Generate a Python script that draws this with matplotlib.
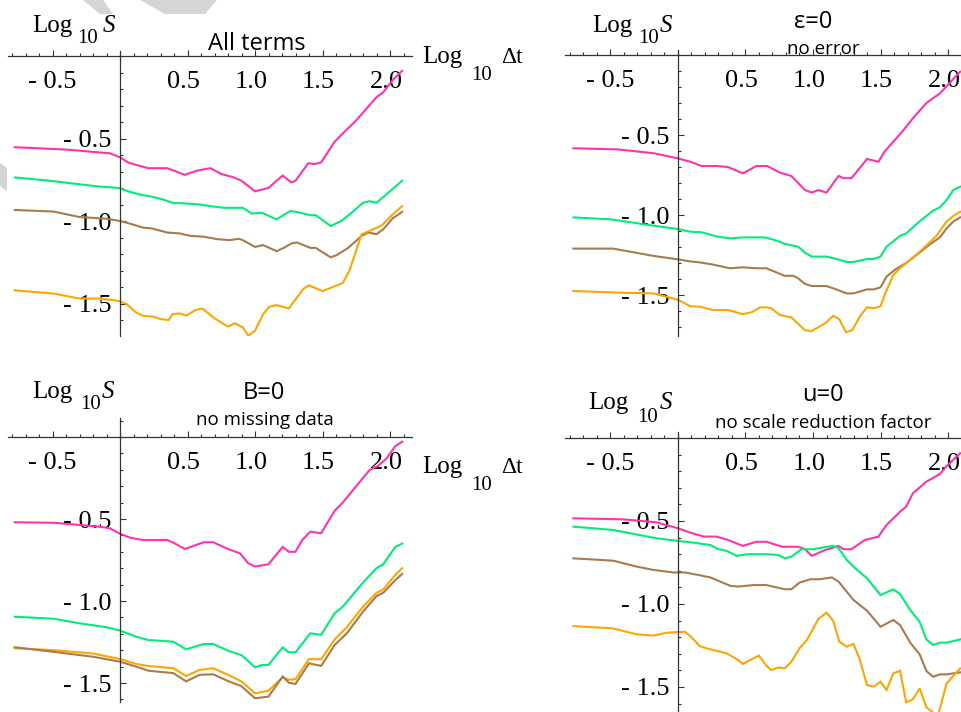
import matplotlib.pyplot as plt
from matplotlib.ticker import FixedLocator, MultipleLocator
from matplotlib.patches import Polygon
from matplotlib.transforms import ScaledTranslation

W, H = 962, 712

PINK = '#ff33aa'
GREEN = '#00ee77'
BROWN = '#a87b4f'
ORANGE = '#ffa500'

# ---- panel 1: all terms ----
tl_pink_x = [-0.78, -0.40, -0.074, 0.0, 0.06, 0.12, 0.21, 0.35, 0.48, 0.57, 0.67, 0.75, 0.84, 0.90, 1.00, 1.10,
             1.16, 1.205, 1.27, 1.30, 1.395, 1.44, 1.49, 1.59, 1.65, 1.75, 1.90, 1.95, 2.02, 2.09]
tl_pink_y = [-0.553, -0.567, -0.59, -0.614, -0.645, -0.66, -0.68, -0.68, -0.72, -0.695, -0.68, -0.715, -0.735,
             -0.756, -0.82, -0.80, -0.756, -0.725, -0.766, -0.756, -0.65, -0.655, -0.645, -0.52, -0.47, -0.39,
             -0.25, -0.22, -0.146, -0.09]
tl_green_x = [-0.78, -0.52, -0.17, -0.01, 0.06, 0.15, 0.22, 0.32, 0.39, 0.49, 0.59, 0.67, 0.77, 0.91, 0.975,
              1.05, 1.16, 1.26, 1.31, 1.41, 1.45, 1.56, 1.64, 1.73, 1.80, 1.85, 1.90, 2.00, 2.09]
tl_green_y = [-0.736, -0.756, -0.79, -0.80, -0.82, -0.84, -0.85, -0.87, -0.89, -0.894, -0.90, -0.91, -0.92,
              -0.92, -0.955, -0.95, -0.99, -0.94, -0.945, -0.965, -0.965, -1.03, -1.0, -0.94, -0.89, -0.88,
              -0.89, -0.82, -0.756]
tl_brown_x = [-0.78, -0.49, -0.30, -0.10, 0.0, 0.074, 0.17, 0.235, 0.35, 0.44, 0.52, 0.62, 0.72, 0.81, 0.88,
              0.91, 1.0, 1.06, 1.16, 1.22, 1.27, 1.31, 1.41, 1.45, 1.56, 1.605, 1.69, 1.79, 1.84, 1.90, 1.95,
              2.02, 2.09]
tl_brown_y = [-0.933, -0.943, -0.976, -0.986, -1.0, -1.016, -1.04, -1.045, -1.07, -1.075, -1.09, -1.095, -1.11,
              -1.116, -1.108, -1.116, -1.157, -1.146, -1.183, -1.16, -1.136, -1.13, -1.163, -1.163, -1.22,
              -1.207, -1.163, -1.09, -1.07, -1.08, -1.05, -0.984, -0.945]
tl_orange_x = [-0.78, -0.49, -0.30, -0.15, -0.01, 0.05, 0.12, 0.17, 0.25, 0.30, 0.36, 0.39, 0.44, 0.49, 0.56,
               0.61, 0.70, 0.80, 0.85, 0.91, 0.95, 1.0, 1.06, 1.105, 1.16, 1.25, 1.36, 1.40, 1.50, 1.65, 1.70,
               1.79, 1.85, 1.94, 2.02, 2.09]
tl_orange_y = [-1.42, -1.44, -1.47, -1.47, -1.484, -1.504, -1.555, -1.575, -1.58, -1.595, -1.60, -1.565, -1.56,
               -1.573, -1.54, -1.53, -1.59, -1.64, -1.62, -1.645, -1.695, -1.665, -1.565, -1.52, -1.51, -1.53,
               -1.41, -1.39, -1.425, -1.376, -1.30, -1.08, -1.06, -1.026, -0.96, -0.91]

# ---- panel 2: eps = 0 ----
tr_pink_x = [-0.775, -0.45, -0.18, 0.0, 0.09, 0.175, 0.29, 0.37, 0.48, 0.58, 0.66, 0.755, 0.84, 0.94, 0.99, 1.04,
             1.10, 1.16, 1.19, 1.225, 1.285, 1.40, 1.485, 1.53, 1.66, 1.74, 1.84, 1.94, 2.01, 2.09]
tr_pink_y = [-0.583, -0.59, -0.614, -0.646, -0.667, -0.694, -0.694, -0.70, -0.74, -0.694, -0.694, -0.735, -0.756,
             -0.844, -0.86, -0.844, -0.86, -0.79, -0.756, -0.77, -0.77, -0.65, -0.667, -0.604, -0.48, -0.396,
             -0.30, -0.24, -0.177, -0.104]
tr_green_x = [-0.775, -0.50, -0.18, 0.0, 0.09, 0.175, 0.29, 0.385, 0.48, 0.645, 0.73, 0.79, 0.89, 0.94, 0.99,
              1.10, 1.175, 1.25, 1.30, 1.40, 1.45, 1.50, 1.545, 1.645, 1.69, 1.79, 1.89, 1.94, 1.99, 2.04, 2.09]
tr_green_y = [-1.015, -1.027, -1.067, -1.088, -1.104, -1.108, -1.135, -1.146, -1.14, -1.14, -1.16, -1.18,
              -1.198, -1.235, -1.26, -1.26, -1.275, -1.294, -1.294, -1.275, -1.275, -1.26, -1.198, -1.13,
              -1.115, -1.04, -0.973, -0.952, -0.906, -0.844, -0.823]
tr_brown_x = [-0.775, -0.48, -0.18, 0.0, 0.09, 0.16, 0.26, 0.385, 0.48, 0.58, 0.655, 0.79, 0.855, 0.89, 0.94,
              0.99, 1.10, 1.15, 1.25, 1.30, 1.40, 1.45, 1.50, 1.545, 1.61, 1.69, 1.79, 1.855, 1.94, 1.99, 2.04,
              2.09]
tr_brown_y = [-1.21, -1.21, -1.256, -1.277, -1.29, -1.296, -1.31, -1.333, -1.327, -1.333, -1.333, -1.38, -1.38,
              -1.396, -1.43, -1.444, -1.444, -1.458, -1.49, -1.49, -1.465, -1.465, -1.452, -1.385, -1.34, -1.30,
              -1.235, -1.19, -1.14, -1.083, -1.04, -1.015]
tr_orange_x = [-0.775, -0.405, -0.18, 0.0, 0.09, 0.16, 0.26, 0.37, 0.48, 0.545, 0.61, 0.655, 0.69, 0.755, 0.84,
               0.94, 0.99, 1.09, 1.15, 1.195, 1.245, 1.29, 1.35, 1.40, 1.45, 1.50, 1.535, 1.595, 1.645, 1.72,
               1.79, 1.87, 1.915, 1.99, 2.04, 2.09]
tr_orange_y = [-1.475, -1.486, -1.49, -1.53, -1.57, -1.573, -1.594, -1.594, -1.62, -1.608, -1.577, -1.577,
               -1.583, -1.625, -1.64, -1.72, -1.725, -1.677, -1.63, -1.652, -1.733, -1.72, -1.63, -1.577, -1.583,
               -1.57, -1.49, -1.375, -1.333, -1.28, -1.23, -1.167, -1.13, -1.04, -1.006, -0.98]

# ---- panel 3: B = 0 ----
bl_pink_x = [-0.78, -0.49, -0.15, -0.074, 0.0, 0.074, 0.17, 0.35, 0.395, 0.48, 0.62, 0.69, 0.80, 0.89, 0.95, 1.0,
             1.10, 1.205, 1.25, 1.30, 1.35, 1.41, 1.49, 1.59, 1.65, 1.75, 1.85, 1.91, 1.975, 2.04, 2.09]
bl_pink_y = [-0.52, -0.523, -0.547, -0.557, -0.59, -0.614, -0.628, -0.628, -0.644, -0.683, -0.642, -0.642,
             -0.683, -0.71, -0.77, -0.79, -0.776, -0.67, -0.70, -0.70, -0.628, -0.577, -0.587, -0.45, -0.40,
             -0.30, -0.20, -0.177, -0.13, -0.055, -0.029]
bl_green_x = [-0.78, -0.49, -0.30, -0.10, 0.0, 0.12, 0.21, 0.395, 0.49, 0.62, 0.69, 0.80, 0.90, 1.0, 1.05, 1.10,
              1.205, 1.25, 1.30, 1.41, 1.49, 1.59, 1.65, 1.80, 1.90, 1.95, 2.04, 2.09]
bl_green_y = [-1.096, -1.108, -1.136, -1.16, -1.18, -1.218, -1.238, -1.248, -1.295, -1.262, -1.262, -1.303,
              -1.33, -1.404, -1.39, -1.39, -1.283, -1.313, -1.313, -1.197, -1.207, -1.075, -1.035, -0.888, -0.80,
              -0.776, -0.67, -0.65]
bl_low_x = [-0.78, -0.49, -0.20, 0.0, 0.12, 0.21, 0.395, 0.49, 0.59, 0.69, 0.80, 0.90, 1.0, 1.10, 1.205, 1.25,
            1.30, 1.40, 1.49, 1.59, 1.68, 1.80, 1.90, 1.95, 2.04, 2.09]
bl_orange_y = [-1.288, -1.30, -1.32, -1.354, -1.384, -1.396, -1.41, -1.457, -1.42, -1.41, -1.45, -1.49, -1.563,
               -1.547, -1.465, -1.48, -1.477, -1.354, -1.356, -1.234, -1.16, -1.035, -0.95, -0.93, -0.84, -0.80]
bl_brown_y = [-1.282, -1.31, -1.34, -1.37, -1.40, -1.425, -1.44, -1.49, -1.45, -1.447, -1.488, -1.52, -1.593,
              -1.583, -1.46, -1.498, -1.506, -1.38, -1.396, -1.268, -1.197, -1.065, -0.97, -0.95, -0.872, -0.835]

# ---- panel 4: u = 0 ----
br_pink_x = [-0.775, -0.405, -0.16, 0.0, 0.09, 0.19, 0.285, 0.37, 0.48, 0.58, 0.655, 0.77, 0.89, 0.94, 0.99,
             1.09, 1.19, 1.225, 1.285, 1.385, 1.485, 1.545, 1.645, 1.69, 1.74, 1.84, 1.94, 1.99, 2.09]
br_pink_y = [-0.484, -0.49, -0.508, -0.544, -0.57, -0.594, -0.594, -0.614, -0.65, -0.625, -0.625, -0.655,
             -0.655, -0.669, -0.71, -0.675, -0.65, -0.67, -0.67, -0.614, -0.594, -0.524, -0.444, -0.414,
             -0.333, -0.263, -0.217, -0.169, -0.092]
br_green_x = [-0.775, -0.48, -0.16, 0.0, 0.11, 0.24, 0.30, 0.36, 0.435, 0.51, 0.655, 0.745, 0.79, 0.84, 0.915,
              1.0, 1.15, 1.19, 1.25, 1.32, 1.40, 1.50, 1.595, 1.645, 1.72, 1.79, 1.84, 1.89, 1.94, 1.99, 2.09]
br_green_y = [-0.534, -0.554, -0.604, -0.62, -0.63, -0.645, -0.67, -0.68, -0.71, -0.70, -0.70, -0.705, -0.725,
              -0.715, -0.67, -0.67, -0.649, -0.665, -0.735, -0.79, -0.845, -0.946, -0.912, -0.94, -1.036,
              -1.107, -1.213, -1.247, -1.233, -1.233, -1.213]
br_brown_x = [-0.775, -0.48, -0.305, -0.18, -0.035, 0.05, 0.15, 0.24, 0.385, 0.445, 0.56, 0.655, 0.79, 0.84,
              0.90, 0.98, 1.05, 1.14, 1.19, 1.30, 1.40, 1.50, 1.595, 1.645, 1.72, 1.79, 1.84, 1.89, 1.94, 1.99,
              2.09]
br_brown_y = [-0.725, -0.739, -0.775, -0.795, -0.81, -0.81, -0.825, -0.84, -0.89, -0.895, -0.886, -0.886,
              -0.911, -0.911, -0.871, -0.851, -0.851, -0.84, -0.866, -0.976, -1.04, -1.137, -1.096, -1.127,
              -1.233, -1.303, -1.404, -1.438, -1.424, -1.424, -1.412]
br_orange_x = [-0.775, -0.48, -0.305, -0.18, -0.085, 0.05, 0.10, 0.16, 0.21, 0.36, 0.445, 0.48, 0.56, 0.60,
               0.65, 0.69, 0.745, 0.79, 0.84, 0.90, 0.955, 1.04, 1.10, 1.15, 1.195, 1.25, 1.30, 1.345, 1.40,
               1.45, 1.50, 1.545, 1.595, 1.645, 1.69, 1.74, 1.79, 1.84, 1.89, 1.92, 1.99, 2.09]
br_orange_y = [-1.133, -1.147, -1.183, -1.19, -1.173, -1.167, -1.20, -1.253, -1.267, -1.297, -1.337, -1.361,
               -1.327, -1.311, -1.367, -1.398, -1.382, -1.388, -1.348, -1.267, -1.217, -1.09, -1.052, -1.102,
               -1.227, -1.257, -1.241, -1.331, -1.488, -1.498, -1.468, -1.518, -1.418, -1.402, -1.592, -1.574,
               -1.508, -1.622, -1.655, -1.69, -1.478, -1.388]

x_ticks = [-0.5, 0.5, 1.0, 1.5, 2.0]
x_labels = ['- 0.5', '0.5', '1.0', '1.5', '2.0']
y_ticks = [-0.5, -1.0, -1.5]
y_labels = ['- 0.5', '- 1.0', '- 1.5']

SERIF = 'Liberation Serif'
SANS = 'Open Sans'

fig = plt.figure(figsize=(W / 100, H / 100), dpi=100)
fig.patch.set_facecolor('white')

# faint watermark fragments
for pts in [[(83, 0), (103, 0), (113, 14), (100, 14)],
            [(140, 0), (217, 0), (205, 14), (165, 14)],
            [(0, 163), (7, 168), (7, 191), (0, 186)]]:
    fig.patches.append(Polygon([(px / W, 1 - py / H) for px, py in pts], closed=True,
                               transform=fig.transFigure, facecolor='#d4d5d7', edgecolor='none', zorder=0))

# positive x labels sit a few pixels left of their ticks in the original
label_shift = ScaledTranslation(-0.04, 0, fig.dpi_scale_trans)


def make_axes(x0, y0, sx, sy, left, right, top, bottom):
    ax = fig.add_axes([left / W, 1 - bottom / H, (right - left) / W, (bottom - top) / H])
    ax.set_xlim((left - x0) / sx, (right - x0) / sx)
    ax.set_ylim((y0 - bottom) / sy, (y0 - top) / sy)
    ax.patch.set_visible(False)
    ax.spines['top'].set_visible(False)
    ax.spines['right'].set_visible(False)
    ax.spines['left'].set_position(('data', 0))
    ax.spines['bottom'].set_position(('data', 0))
    for s in ['left', 'bottom']:
        ax.spines[s].set_color('#333333')
        ax.spines[s].set_linewidth(0.9)
    ax.xaxis.set_major_locator(FixedLocator(x_ticks))
    ax.xaxis.set_minor_locator(MultipleLocator(0.1))
    ax.yaxis.set_major_locator(FixedLocator(y_ticks))
    ax.yaxis.set_minor_locator(MultipleLocator(0.1))
    ax.set_xticklabels(x_labels)
    ax.set_yticklabels(y_labels)
    ax.tick_params(axis='both', which='both', direction='in', color='#333333', width=0.8)
    ax.tick_params(axis='both', which='major', length=4.0)
    ax.tick_params(axis='both', which='minor', length=2.2)
    ax.tick_params(axis='x', which='major', pad=11)
    ax.tick_params(axis='y', which='major', pad=6)
    for lab in ax.get_xticklabels() + ax.get_yticklabels():
        lab.set_fontfamily(SERIF)
        lab.set_fontsize(19)
    for lab in ax.get_xticklabels()[1:]:
        lab.set_transform(lab.get_transform() + label_shift)
    return ax


def draw(ax, series):
    for x, y, c in series:
        ax.plot(x, y, color=c, lw=1.5, solid_joinstyle='miter')


def ftext(px, py, s, **kw):
    fig.text(px / W, 1 - py / H, s, va='baseline', **kw)


def log_y_label(px, py, sub_dx, sub_dy, s_dx):
    ftext(px, py, 'Log', family=SERIF, fontsize=18)
    ftext(px + sub_dx, py + sub_dy, '10', family=SERIF, fontsize=15)
    ftext(px + s_dx, py, 'S', family=SERIF, fontsize=18, style='italic')


def log_x_label(px, py, sub_dy):
    ftext(px, py, 'Log', family=SERIF, fontsize=18)
    ftext(px + 49, py + sub_dy, '10', family=SERIF, fontsize=15)
    ftext(px + 79, py, '\u0394t', family=SERIF, fontsize=17)


ax1 = make_axes(120, 56, 135, 165, 8, 412, 51, 336)
draw(ax1, [(tl_pink_x, tl_pink_y, PINK), (tl_green_x, tl_green_y, GREEN),
           (tl_brown_x, tl_brown_y, BROWN), (tl_orange_x, tl_orange_y, ORANGE)])

ax2 = make_axes(678, 55, 135, 160, 565, 975, 50, 336)
draw(ax2, [(tr_pink_x, tr_pink_y, PINK), (tr_green_x, tr_green_y, GREEN),
           (tr_brown_x, tr_brown_y, BROWN), (tr_orange_x, tr_orange_y, ORANGE)])

ax3 = make_axes(120, 437, 135, 164, 8, 412, 418, 702)
draw(ax3, [(bl_pink_x, bl_pink_y, PINK), (bl_green_x, bl_green_y, GREEN),
           (bl_low_x, bl_orange_y, ORANGE), (bl_low_x, bl_brown_y, BROWN)])

ax4 = make_axes(678, 438, 135, 166, 565, 975, 432, 730)
draw(ax4, [(br_pink_x, br_pink_y, PINK), (br_green_x, br_green_y, GREEN),
           (br_brown_x, br_brown_y, BROWN), (br_orange_x, br_orange_y, ORANGE)])

# axis labels
log_y_label(32, 32, 45, 11, 71)
log_y_label(592, 32, 46, 11, 68)
log_y_label(32, 398, 48, 11, 70)
log_y_label(588, 409, 49, 13, 72)
log_x_label(422, 63, 17)
log_x_label(422, 473, 17)

# panel titles
ftext(257, 50, 'All terms', family=SANS, fontsize=17, ha='center')
ftext(813, 28, '\u03b5=0', family=SANS, fontsize=17, ha='center')
ftext(823, 54, 'no error', family=SANS, fontsize=13.5, ha='center')
ftext(264, 399, 'B=0', family=SANS, fontsize=17, ha='center')
ftext(265, 425, 'no missing data', family=SANS, fontsize=13.5, ha='center')
ftext(823, 401, 'u=0', family=SANS, fontsize=17, ha='center')
ftext(823, 428, 'no scale reduction factor', family=SANS, fontsize=13.5, ha='center')

fig.savefig('out.png', dpi=100)
